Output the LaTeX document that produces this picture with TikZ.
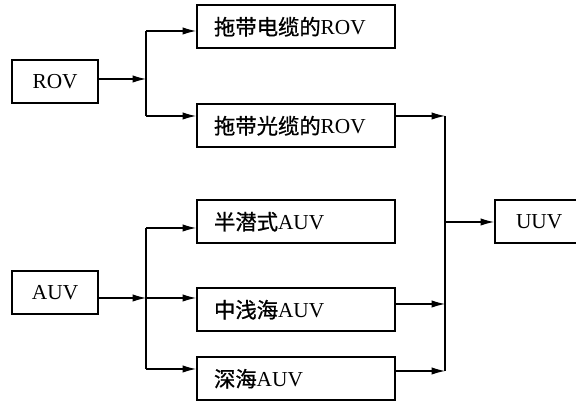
\documentclass[tikz,border=0pt]{standalone}
\usepackage{fontspec}
\setmainfont{Liberation Serif}
\newfontfamily\cjk[FakeBold=0.9]{Noto Sans CJK SC}
\usetikzlibrary{arrows.meta}
\begin{document}
\begin{tikzpicture}[x=0.75pt,y=-0.75pt,
  box/.style={draw, line width=1.6pt, anchor=north west, minimum height=32.5pt,
    font=\fontsize{16}{18}\selectfont, inner ysep=0pt},
  lbox/.style={box, text width=123pt, inner xsep=12.75pt, align=left},
  sbox/.style={box, minimum width=64.5pt, align=center},
  conn/.style={line width=0.8pt},
  arr/.style={conn, -{Latex[length=10pt,width=5.5pt]}}
]
\clip (0,0) rectangle (576,402);
\fill[white] (0,0) rectangle (576,402);

\node[sbox] (rov) at (11,59) {ROV};
\node[lbox] (b1) at (196,4) {{\cjk 拖带电缆的}ROV};
\node[lbox] (b2) at (196,103) {{\cjk 拖带光缆的}ROV};
\node[sbox] (auv) at (11,270) {AUV};
\node[lbox] (b3) at (196,199) {{\cjk 半潜式}AUV};
\node[lbox] (b4) at (196,287) {{\cjk 中浅海}AUV};
\node[lbox] (b5) at (196,356) {{\cjk 深海}AUV};
\node[box, text width=48pt, inner xsep=15.75pt, align=left] (uuv) at (494,199) {UUV};

% ROV branch
\coordinate (r0) at (146,79);
\coordinate (r1) at (146,31);
\coordinate (r2) at (146,116);
\draw[arr] (rov.east |- r0) -- (r0);
\draw[conn] (r1) -- (r2);
\draw[arr] (r1) -- (r1 -| b1.west);
\draw[arr] (r2) -- (r2 -| b2.west);

% AUV branch
\coordinate (a0) at (146,298);
\coordinate (a1) at (146,228);
\coordinate (a3) at (146,369);
\draw[arr] (auv.east |- a0) -- (a0);
\draw[conn] (a1) -- (a3);
\draw[arr] (a1) -- (a1 -| b3.west);
\draw[arr] (a0) -- (a0 -| b4.west);
\draw[arr] (a3) -- (a3 -| b5.west);

% merge to UUV
\coordinate (u2) at (445,116);
\coordinate (u4) at (445,304);
\coordinate (u5) at (445,371);
\coordinate (u0) at (445,222);
\draw[arr] (b2.east |- u2) -- (u2);
\draw[arr] (b4.east |- u4) -- (u4);
\draw[arr] (b5.east |- u5) -- (u5);
\draw[conn] (u2) -- (u5);
\draw[arr] (u0) -- (u0 -| uuv.west);
\end{tikzpicture}
\end{document}
